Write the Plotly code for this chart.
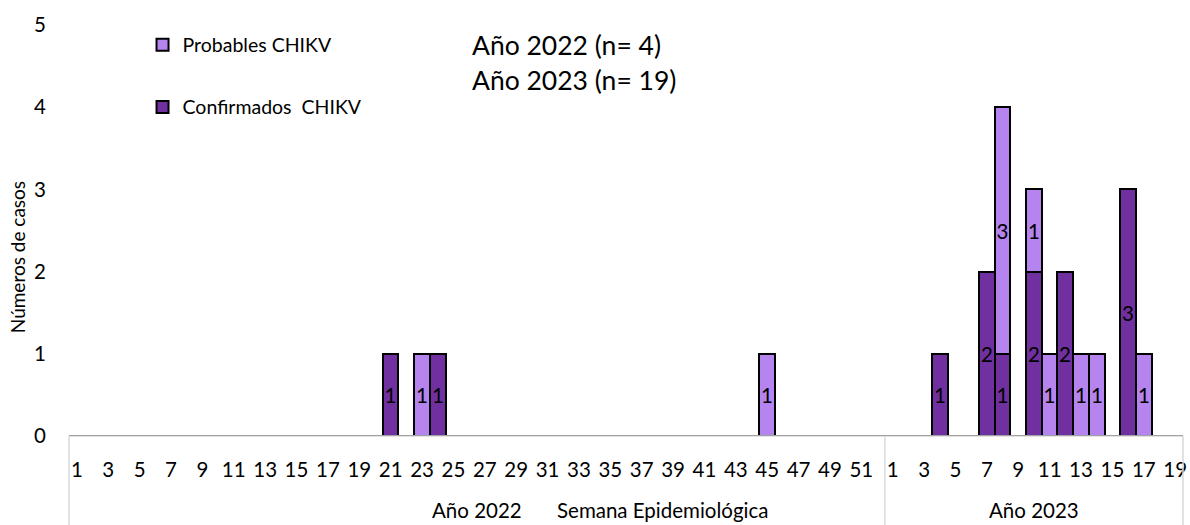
import plotly.graph_objects as go

# Epidemiological weeks: 52 weeks of 2022 followed by 19 weeks of 2023
weeks_2022 = list(range(1, 53))
weeks_2023 = list(range(1, 20))

# Chikungunya cases per week (confirmed / probable)
confirmados_2022 = {21: 1, 24: 1}
probables_2022 = {23: 1, 45: 1}
confirmados_2023 = {4: 1, 7: 2, 8: 1, 10: 2, 12: 2, 16: 3}
probables_2023 = {8: 3, 10: 1, 11: 1, 13: 1, 14: 1, 17: 1}

titulo_2022 = "Año 2022 (n= 4)"
titulo_2023 = "Año 2023 (n= 19)"

FONT = "Lato"
C_CONF = "#7030A0"
C_PROB = "#B584EE"
GRID = "#D9D9D9"

categorias = [f"2022-{w}" for w in weeks_2022] + [f"2023-{w}" for w in weeks_2023]
conf = [confirmados_2022.get(w, 0) for w in weeks_2022] + [confirmados_2023.get(w, 0) for w in weeks_2023]
prob = [probables_2022.get(w, 0) for w in weeks_2022] + [probables_2023.get(w, 0) for w in weeks_2023]

tick_vals = [f"2022-{w}" for w in weeks_2022 if w % 2 == 1] + [f"2023-{w}" for w in weeks_2023 if w % 2 == 1]
tick_text = [str(w) for w in weeks_2022 if w % 2 == 1] + [str(w) for w in weeks_2023 if w % 2 == 1]


def etiquetas(vals):
    return [str(v) if v else "" for v in vals]


bar_common = dict(
    textposition="inside", insidetextanchor="middle", textangle=0,
    constraintext="none", textfont=dict(family=FONT, size=20.5, color="black"),
    hoverinfo="x+y+name",
)

fig = go.Figure()
fig.add_trace(go.Bar(
    x=categorias, y=conf, name="Confirmados&nbsp; CHIKV",
    marker=dict(color=C_CONF, line=dict(color="black", width=2)),
    text=etiquetas(conf), legend="legend2", **bar_common,
))
fig.add_trace(go.Bar(
    x=categorias, y=prob, name="Probables CHIKV",
    marker=dict(color=C_PROB, line=dict(color="black", width=2)),
    text=etiquetas(prob), legend="legend", **bar_common,
))

n = len(categorias)
n22 = len(weeks_2022)

shapes = [
    dict(type="line", xref="paper", yref="paper", x0=0, x1=1, y0=0, y1=0,
         line=dict(color=GRID, width=1.5)),
    dict(type="line", xref="paper", yref="paper", x0=0, x1=0, y0=0, y1=-0.3,
         line=dict(color=GRID, width=1.5)),
    dict(type="line", xref="paper", yref="paper", x0=1, x1=1, y0=0, y1=-0.3,
         line=dict(color=GRID, width=1.5)),
    dict(type="line", xref="x", yref="paper", x0=n22 - 0.5, x1=n22 - 0.5, y0=0, y1=-0.3,
         line=dict(color=GRID, width=1.5)),
]

axis_label = dict(family=FONT, size=20.5, color="black")

annotations = [
    dict(text="Año 2022", x=(n22 - 1) / 2, xref="x", y=-0.18, yref="paper",
         yanchor="middle", showarrow=False, font=axis_label),
    dict(text="Año 2023", x=(n22 + n - 1) / 2, xref="x", y=-0.18, yref="paper",
         yanchor="middle", showarrow=False, font=axis_label),
    dict(text="Semana Epidemiológica", x=0.533, xref="paper", y=-0.18, yref="paper",
         yanchor="middle", showarrow=False, font=axis_label),
    dict(text=titulo_2022, x=0.360, xref="paper", xanchor="left", y=0.951, yref="paper",
         yanchor="middle", showarrow=False, font=dict(family=FONT, size=26.5, color="black")),
    dict(text=titulo_2023, x=0.360, xref="paper", xanchor="left", y=0.866, yref="paper",
         yanchor="middle", showarrow=False, font=dict(family=FONT, size=26.5, color="black")),
    dict(text="Números de casos", x=-0.0465, xref="paper", xanchor="center",
         y=0.4355, yref="paper", yanchor="middle", textangle=-90, showarrow=False,
         font=dict(family=FONT, size=19, color="black")),
]

legend_style = dict(
    font=dict(family=FONT, size=19.5, color="black"),
    bgcolor="rgba(0,0,0,0)", borderwidth=0, xanchor="left", yanchor="middle",
    itemwidth=30,
)

fig.update_layout(
    width=1190, height=525,
    margin=dict(l=69, r=3, t=25, b=89),
    paper_bgcolor="white", plot_bgcolor="white",
    barmode="stack", bargap=0,
    showlegend=True,
    font=dict(family=FONT, color="black"),
    xaxis=dict(
        type="category", categoryorder="array", categoryarray=categorias,
        range=[-0.5, n - 0.5], tickmode="array", tickvals=tick_vals, ticktext=tick_text,
        tickangle=0, showgrid=False, showline=False, ticks="", zeroline=False,
        tickfont=dict(family=FONT, size=20.5, color="black"), ticklabelstandoff=19,
    ),
    yaxis=dict(
        range=[0, 5], tickvals=[0, 1, 2, 3, 4, 5], showgrid=False, showline=False,
        zeroline=False, ticks="", tickfont=dict(family=FONT, size=20.5, color="black"),
        ticklabelstandoff=22,
    ),
    legend=dict(x=0.066, y=0.951, **legend_style),
    legend2=dict(x=0.066, y=0.80, **legend_style),
    shapes=shapes,
    annotations=annotations,
)

fig.write_html("out.html")
